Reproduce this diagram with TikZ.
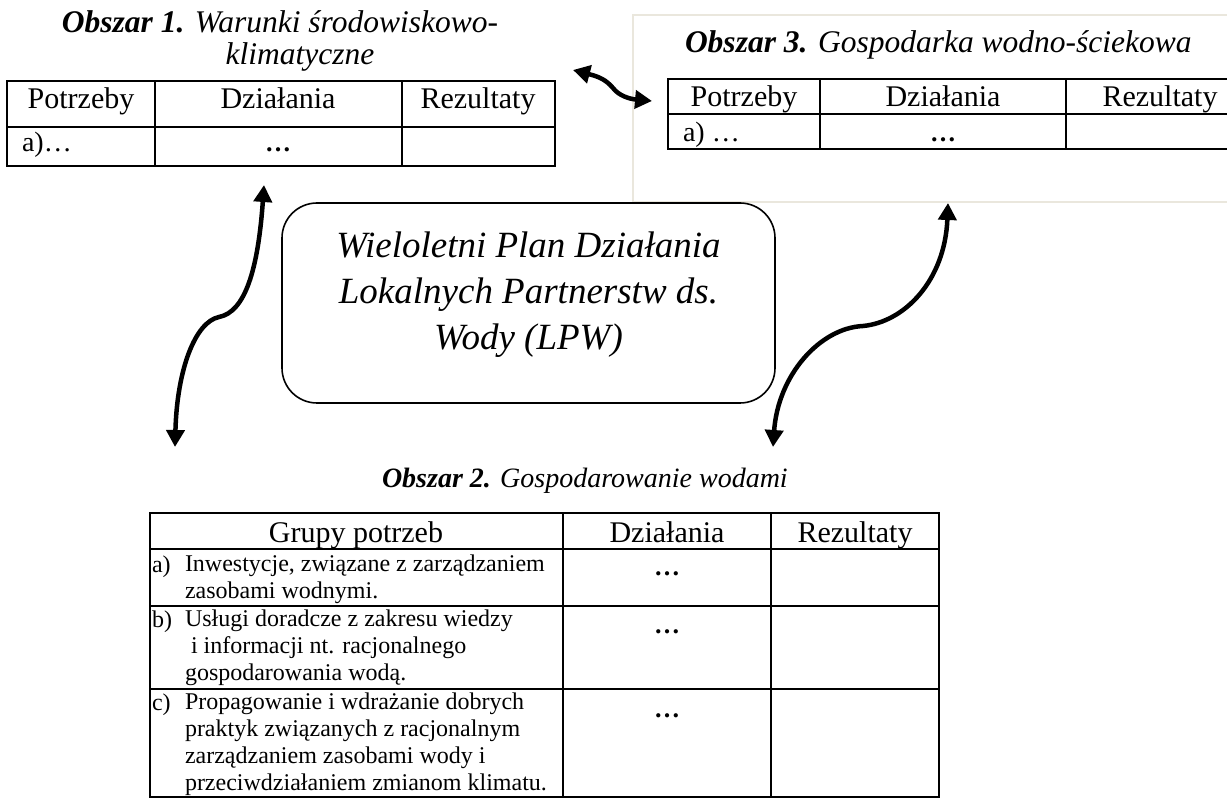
\documentclass[tikz,border=0pt]{standalone}
\usepackage{fontspec}
\setmainfont{Liberation Serif}
\usetikzlibrary{arrows.meta}
\definecolor{framegrey}{RGB}{234,231,221}
\begin{document}
\begin{tikzpicture}[x=1pt,y=-1pt,
  rule/.style={draw=black,line width=1.8pt},
  thinrule/.style={draw=black,line width=1.2pt},
  ttl/.style={inner sep=0pt,outer sep=0pt,anchor=base west,font=\itshape\fontsize{31.5}{34}\selectfont},
  hdr/.style={inner sep=0pt,outer sep=0pt,anchor=base,font=\fontsize{30}{32}\selectfont},
  cell/.style={inner sep=0pt,outer sep=0pt,anchor=base west,align=left,font=\fontsize{24}{26.7}\selectfont},
  dots/.style={inner sep=0pt,outer sep=0pt,anchor=base,font=\bfseries\fontsize{26}{28}\selectfont},
  link/.style={line width=4.5pt,{Triangle[length=17pt,width=18pt]}-{Triangle[length=17pt,width=18pt]}},
]
\clip (0,0) rectangle (1227,799);
\path[fill=white] (0,0) rectangle (1227,799);
% Obszar 1
\node[ttl,anchor=base] (t1a) at (280,33) {\textbf{Obszar 1.} Warunki środowiskowo-};
\node[ttl,anchor=base] (t1b) at (300,65) {klimatyczne};
\draw[rule] (7,81) rectangle (555,166);
\draw[rule] (7,127) -- (555,127);
\foreach \x in {155,402} \draw[rule] (\x,81) -- (\x,166);
\node[hdr] (p1) at (81,109) {Potrzeby};
\node[hdr] (d1) at (278,109) {Działania};
\node[hdr] (r1) at (478,109) {Rezultaty};
\node[cell,font=\fontsize{28}{30}\selectfont] (a1) at (22,152) {a)…};
\node[dots] (x1) at (278,152) {…};
% Obszar 3
\draw[framegrey,line width=2pt] (633,15) rectangle (1240,202);
\node[ttl] (t3) at (685,53) {\textbf{Obszar 3.} Gospodarka wodno-ściekowa};
\draw[rule] (668,79) rectangle (1260,149);
\draw[rule] (668,114) -- (1260,114);
\foreach \x in {820,1066} \draw[rule] (\x,79) -- (\x,149);
\node[hdr] (p3) at (744,107) {Potrzeby};
\node[hdr] (d3) at (943,107) {Działania};
\node[hdr] (r3) at (1160,107) {Rezultaty};
\node[cell,font=\fontsize{28}{30}\selectfont] (a3) at (683,142) {a) …};
\node[dots] (x3) at (943,142) {…};
% plan
\node[draw,line width=1.6pt,rounded corners=35pt,minimum width=493pt,minimum height=200pt,inner sep=0pt] (plan) at (528.5,303) {};
\node[inner sep=0pt,align=center,font=\itshape\fontsize{37}{46}\selectfont] (plantxt) at ([yshift=8pt]plan.center) {Wieloletni Plan Działania\\Lokalnych Partnerstw ds.\\Wody (LPW)};
% arrows
\coordinate (s1) at (573,70);
\coordinate (s2) at (652,101);
\coordinate (l1) at (264,185);
\coordinate (l2) at (175,447);
\coordinate (q1) at (948,203);
\coordinate (q2) at (773,447);
\draw[link] (s1) .. controls (600,77) and (606,80) .. (613,88) .. controls (619,96) and (630,99) .. (s2);
\draw[link] (l1) .. controls (258,270) and (245,312) .. (219,317) .. controls (195,322) and (177,370) .. (l2);
\draw[link] (q1) .. controls (945,280) and (905,322) .. (863,326) .. controls (820,328) and (778,375) .. (q2);
% Obszar 2
\node[ttl,font=\itshape\fontsize{28}{32}\selectfont] (t2) at (382,488) {\textbf{Obszar 2.} Gospodarowanie wodami};
\draw[rule] (150,513) rectangle (939,797);
\foreach \y in {549,606,689} \draw[rule] (150,\y) -- (939,\y);
\foreach \x in {563,771} \draw[thinrule] (\x,513) -- (\x,797);
\node[hdr] (g2) at (356,542) {Grupy potrzeb};
\node[hdr] (d2) at (667,542) {Działania};
\node[hdr] (r2) at (855,542) {Rezultaty};
\node[cell] (ka) at (152,572) {a)};
\node[cell] (ta) at (185,598) {Inwestycje, związane z zarządzaniem\\zasobami wodnymi.};
\node[dots] (xa) at (667,575) {…};
\node[cell] (kb) at (152,627) {b)};
\node[cell] (tb) at (185,680) {Usługi doradcze z zakresu wiedzy\\\hspace*{6pt}i informacji nt. racjonalnego\\gospodarowania wodą.};
\node[dots] (xb) at (667,633) {…};
\node[cell] (kc) at (152,710) {c)};
\node[cell] (tc) at (185,790) {Propagowanie i wdrażanie dobrych\\praktyk związanych z racjonalnym\\zarządzaniem zasobami wody i\\przeciwdziałaniem zmianom klimatu.};
\node[dots] (xc) at (667,717) {…};
\end{tikzpicture}
\end{document}
